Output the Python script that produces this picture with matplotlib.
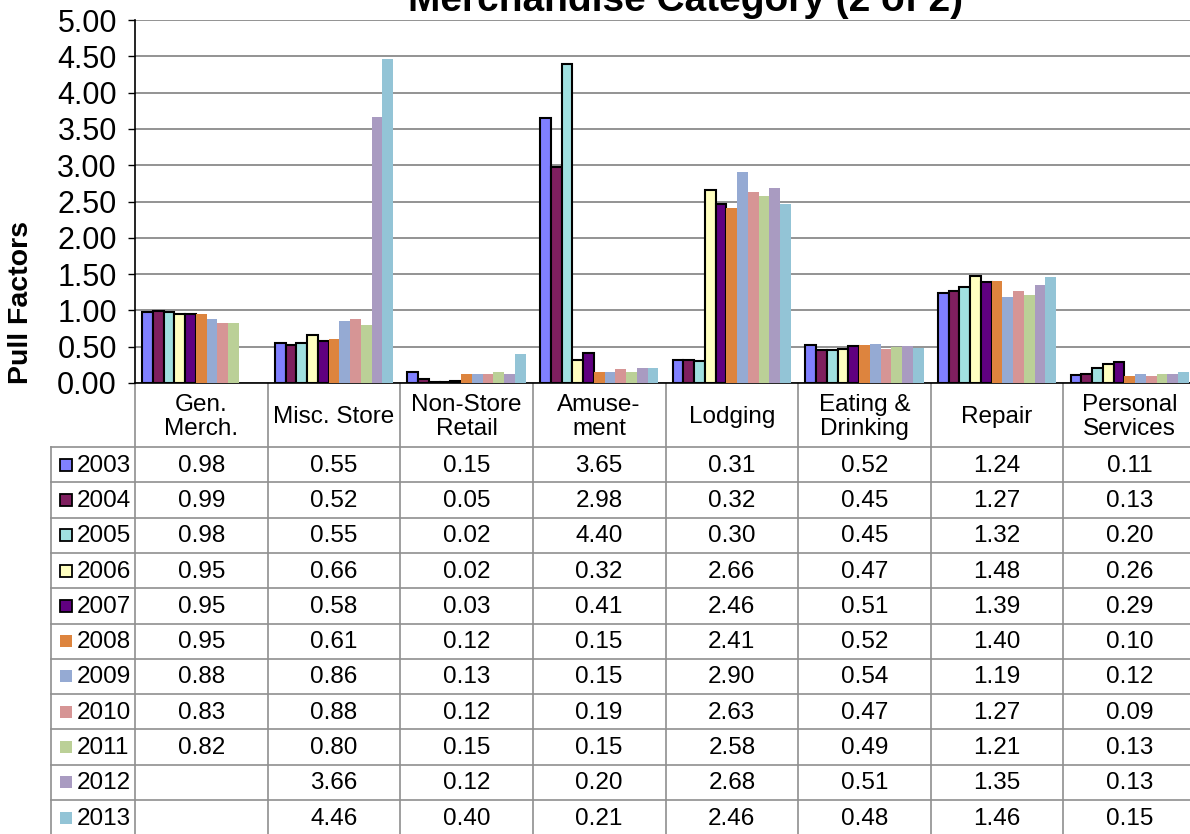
import matplotlib
matplotlib.use("Agg")
import matplotlib.pyplot as plt
import matplotlib.transforms as mtrans
from matplotlib.patches import Rectangle
import numpy as np

plt.rcParams['font.family'] = ['Liberation Sans', 'DejaVu Sans']

categories = ["Gen.\nMerch.", "Misc. Store", "Non-Store\nRetail", "Amuse-\nment",
              "Lodging", "Eating &\nDrinking", "Repair", "Personal\nServices"]
years = ["2003", "2004", "2005", "2006", "2007", "2008", "2009", "2010", "2011", "2012", "2013"]

v2003 = [0.98, 0.55, 0.15, 3.65, 0.31, 0.52, 1.24, 0.11]
v2004 = [0.99, 0.52, 0.05, 2.98, 0.32, 0.45, 1.27, 0.13]
v2005 = [0.98, 0.55, 0.02, 4.40, 0.30, 0.45, 1.32, 0.20]
v2006 = [0.95, 0.66, 0.02, 0.32, 2.66, 0.47, 1.48, 0.26]
v2007 = [0.95, 0.58, 0.03, 0.41, 2.46, 0.51, 1.39, 0.29]
v2008 = [0.95, 0.61, 0.12, 0.15, 2.41, 0.52, 1.40, 0.10]
v2009 = [0.88, 0.86, 0.13, 0.15, 2.90, 0.54, 1.19, 0.12]
v2010 = [0.83, 0.88, 0.12, 0.19, 2.63, 0.47, 1.27, 0.09]
v2011 = [0.82, 0.80, 0.15, 0.15, 2.58, 0.49, 1.21, 0.13]
v2012 = [None, 3.66, 0.12, 0.20, 2.68, 0.51, 1.35, 0.13]
v2013 = [None, 4.46, 0.40, 0.21, 2.46, 0.48, 1.46, 0.15]
series = [v2003, v2004, v2005, v2006, v2007, v2008, v2009, v2010, v2011, v2012, v2013]

colors = ["#8080FF", "#7F1F5F", "#A0E0E0", "#FFFFC0", "#600080", "#DD843E",
          "#95AAD3", "#D69595", "#BBD097", "#A99BC1", "#93C4D6"]
outlined = [True, True, True, True, True, False, False, False, False, False, False]

W, H = 1190, 834
fig = plt.figure(figsize=(W / 100, H / 100), dpi=100)

ax_left, ax_right, ax_top, ax_bot = 135, 1196, 20, 383
ax = fig.add_axes([ax_left / W, 1 - ax_bot / H, (ax_right - ax_left) / W, (ax_bot - ax_top) / H])

n = len(series)
bw = 0.081
x = np.arange(len(categories))
for j, (vals, c, o) in enumerate(zip(series, colors, outlined)):
    xs = [xi + (j - (n - 1) / 2) * bw for xi, v in zip(x, vals) if v is not None]
    ys = [v for v in vals if v is not None]
    ax.bar(xs, ys, width=bw, color=c,
           edgecolor="black" if o else "none", linewidth=1.5 if o else 0, zorder=3)

ax.set_xlim(-0.5, len(categories) - 0.5)
ax.set_ylim(0, 5)
ticks = np.arange(0, 5.01, 0.5)
ax.set_yticks(ticks)
ax.set_yticklabels([f"{t:.2f}" for t in ticks], fontsize=22)
ax.tick_params(axis='y', length=5, width=1, pad=8, direction='out')
ax.set_xticks([])
ax.yaxis.grid(True, color="#8a8a8a", linewidth=1.3, zorder=0)
ax.set_axisbelow(True)
for s in ["top", "right"]:
    ax.spines[s].set_visible(False)
ax.spines["left"].set_linewidth(1.2)
ax.spines["bottom"].set_linewidth(1.2)

fig.text(21 / W, 1 - 302 / H, "Pull Factors", rotation=90, fontsize=20.5, fontweight="bold",
         ha="center", va="center")
fig.text(685 / W, 1 - 11 / H, "Merchandise Category (2 of 2)", fontsize=28,
         fontweight="bold", ha="center", va="baseline")

# table
tax = fig.add_axes([0, 0, 1, 1], zorder=-1)
tax.set_xlim(0, W)
tax.set_ylim(H, 0)
tax.axis("off")
trans = mtrans.blended_transform_factory(ax.transData, tax.transData)

head_top, head_bot, row_h = 383, 447, 35.3
tab_left = 51
line_c = "#8f8f8f"
fs = 17.5
for k in range(n + 1):
    yk = head_bot + k * row_h
    tax.plot([tab_left, W], [yk, yk], color=line_c, lw=1.2)
tax.plot([tab_left, tab_left], [head_bot, H], color=line_c, lw=1.2)
for i in range(len(categories) + 1):
    tax.plot([i - 0.5, i - 0.5], [head_top, H], color=line_c, lw=1.2, transform=trans)

for i, cat in enumerate(categories):
    tax.text(i, (head_top + head_bot) / 2 + 2, cat, transform=trans, ha="center", va="center",
             fontsize=fs, linespacing=1.08)

for j, (yr, vals, c, o) in enumerate(zip(years, series, colors, outlined)):
    yc = head_bot + (j + 0.5) * row_h
    tax.add_patch(Rectangle((60, yc - 6), 12, 12, facecolor=c,
                            edgecolor="black" if o else c, lw=1.3 if o else 0))
    tax.text(77, yc + 1, yr, ha="left", va="center", fontsize=fs)
    for i, v in enumerate(vals):
        if v is not None:
            tax.text(i, yc + 1, f"{v:.2f}", transform=trans, ha="center", va="center",
                     fontsize=fs)

fig.savefig("out.png", dpi=100)
